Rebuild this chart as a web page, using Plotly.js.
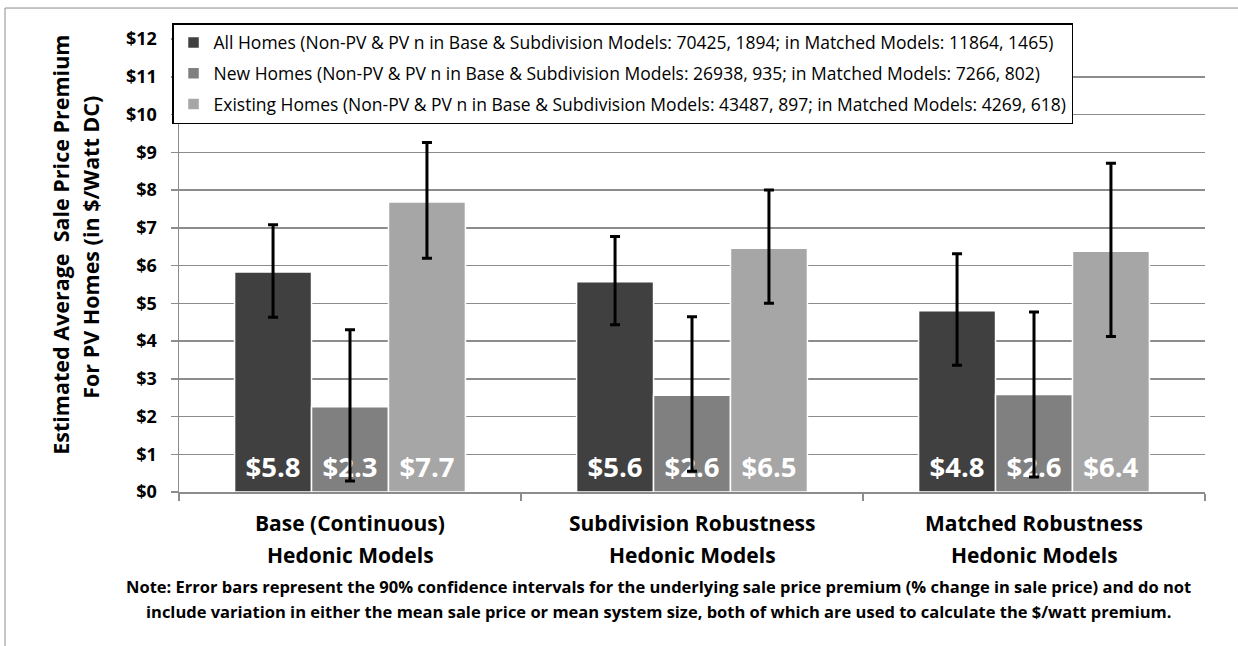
<!DOCTYPE html>
<html>
<head>
<meta charset="utf-8">
<script src="https://cdn.plot.ly/plotly-3.0.1.min.js"></script>
<style>html,body{margin:0;padding:0;background:#fff;}#chart{width:1238px;height:646px;}</style>
</head>
<body>
<div id="chart"></div>
<script>
// ---- data ----
var categories = ['Base (Continuous) Hedonic Models', 'Subdivision Robustness Hedonic Models', 'Matched Robustness Hedonic Models'];
var catLine1 = ['Base (Continuous)', 'Subdivision Robustness', 'Matched Robustness'];
var catLine2 = ['Hedonic Models', 'Hedonic Models', 'Hedonic Models'];

var seriesNames = [
  'All Homes (Non-PV & PV n in Base & Subdivision Models: 70425, 1894; in Matched Models: 11864, 1465)',
  'New Homes (Non-PV & PV n in Base & Subdivision Models: 26938, 935; in Matched Models: 7266, 802)',
  'Existing Homes (Non-PV & PV n in Base & Subdivision Models: 43487, 897; in Matched Models: 4269, 618)'
];
var allHomes = [5.83, 5.57, 4.80];
var allLow   = [4.63, 4.43, 3.36];
var allHigh  = [7.08, 6.77, 6.31];
var newHomes = [2.26, 2.56, 2.58];
var newLow   = [0.29, 0.55, 0.40];
var newHigh  = [4.30, 4.64, 4.77];
var existingHomes = [7.68, 6.46, 6.38];
var existingLow   = [6.19, 5.00, 4.12];
var existingHigh  = [9.26, 8.00, 8.71];

var yTickVals = [0,1,2,3,4,5,6,7,8,9,10,11,12];
var yTickText = ['$0','$1','$2','$3','$4','$5','$6','$7','$8','$9','$10','$11','$12'];

var yTitleLines = ['Estimated Average  Sale Price Premium', 'For PV Homes (in $/Watt DC)'];
var noteLines = [
  'Note: Error bars represent the 90% confidence intervals for the underlying sale price premium (% change in sale price) and do not',
  'include variation in either the mean sale price or mean system size, both of which are used to calculate the $/watt premium.'
];

var colors = ['#404040', '#808080', '#a6a6a6'];

// ---- build ----
function diff(a, b) { return a.map(function(v, i) { return v - b[i]; }); }
var vals = [allHomes, newHomes, existingHomes];
var lows = [allLow, newLow, existingLow];
var highs = [allHigh, newHigh, existingHigh];
var FONT = '"Open Sans", Arial, sans-serif';

var traces = vals.map(function(v, k) {
  return {
    type: 'bar',
    name: seriesNames[k],
    legendgroup: 'g' + k,
    x: categories,
    y: v,
    marker: {color: colors[k], line: {color: '#ffffff', width: 1.5}},
    error_y: {type: 'data', symmetric: false, array: diff(highs[k], v), arrayminus: diff(v, lows[k]),
              color: '#000000', thickness: 3, width: 5},
    texttemplate: "<span style='font-size:27.5px'>$%{y:.1f}</span><br> ",
    textposition: 'inside',
    insidetextanchor: 'start',
    textangle: 0,
    insidetextfont: {family: FONT, size: 8, color: '#ffffff', weight: 'bold'},
    hoverinfo: 'skip'
  };
});

var annotations = [];
annotations.push({xref: 'paper', yref: 'paper', x: -0.1150, y: 0.5457, text: yTitleLines[0], textangle: -90,
  showarrow: false, xanchor: 'center', yanchor: 'middle', font: {family: FONT, size: 21.5, color: '#000', weight: 'bold'}});
annotations.push({xref: 'paper', yref: 'paper', x: -0.0858, y: 0.5413, text: yTitleLines[1], textangle: -90,
  showarrow: false, xanchor: 'center', yanchor: 'middle', font: {family: FONT, size: 21.5, color: '#000', weight: 'bold'}});
categories.forEach(function(c, i) {
  annotations.push({xref: 'x', yref: 'paper', x: c, y: -0.0695, text: catLine1[i], showarrow: false,
    xanchor: 'center', yanchor: 'middle', font: {family: FONT, size: 21, color: '#000', weight: 'bold'}});
  annotations.push({xref: 'x', yref: 'paper', x: c, y: -0.140, text: catLine2[i], showarrow: false,
    xanchor: 'center', yanchor: 'middle', font: {family: FONT, size: 21, color: '#000', weight: 'bold'}});
});
annotations.push({xref: 'paper', yref: 'paper', x: 0.4669, y: -0.2084, text: noteLines[0], showarrow: false,
  xanchor: 'center', yanchor: 'middle', font: {family: FONT, size: 16.5, color: '#000', weight: 'bold'}});
annotations.push({xref: 'paper', yref: 'paper', x: 0.4669, y: -0.2635, text: noteLines[1], showarrow: false,
  xanchor: 'center', yanchor: 'middle', font: {family: FONT, size: 16.5, color: '#000', weight: 'bold'}});

var layout = {
  width: 1238, height: 646,
  margin: {l: 179, r: 33, t: 39, b: 153.5, pad: 0},
  paper_bgcolor: '#ffffff', plot_bgcolor: '#ffffff',
  font: {family: FONT, color: '#000'},
  barmode: 'group', bargap: 0.325, bargroupgap: 0,
  showlegend: true,
  legend: {x: -0.0068, y: 1.0353, xanchor: 'left', yanchor: 'top', bgcolor: '#ffffff',
    bordercolor: '#000000', borderwidth: 1.5, traceorder: 'grouped', tracegroupgap: 5,
    itemwidth: 30, font: {family: FONT, size: 17.5, color: '#000'}},
  xaxis: {type: 'category', showgrid: false, showline: true, linecolor: '#8c8c8c', linewidth: 1.5,
    ticks: 'outside', tickson: 'boundaries', ticklen: 7, tickcolor: '#8c8c8c', tickwidth: 1.5,
    showticklabels: false, zeroline: false, fixedrange: true},
  yaxis: {range: [0, 12], tickvals: yTickVals, ticktext: yTickText, showgrid: true, gridcolor: '#8c8c8c', gridwidth: 1.5,
    showline: true, linecolor: '#8c8c8c', linewidth: 1.5, ticks: 'outside', ticklen: 7, tickcolor: '#8c8c8c', tickwidth: 1.5,
    tickfont: {family: FONT, size: 18, color: '#000', weight: 'bold'}, ticklabelstandoff: 10, zeroline: false, fixedrange: true},
  annotations: annotations,
  shapes: [{type: 'rect', xref: 'paper', yref: 'paper', x0: (5 - 179) / 1026, x1: (1250 - 179) / 1026,
    y0: (492.5 - 660) / 453.5, y1: (492.5 - 8) / 453.5, line: {color: '#8c8c8c', width: 1}, fillcolor: 'rgba(0,0,0,0)', layer: 'below'}]
};

Plotly.newPlot('chart', traces, layout, {staticPlot: true, displayModeBar: false});
</script>
</body>
</html>
